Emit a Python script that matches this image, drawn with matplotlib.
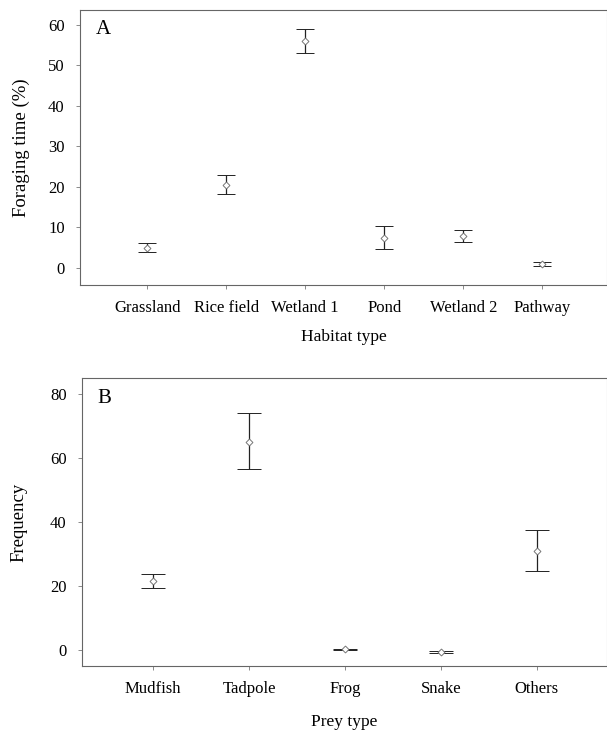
import matplotlib.pyplot as plt
import numpy as np

plt.rcParams['font.family'] = ['Liberation Serif', 'DejaVu Serif']

# Panel A - foraging time by habitat
habitats = ['Grassland', 'Rice field', 'Wetland 1', 'Pond', 'Wetland 2', 'Pathway']
forage_mean = [5.0, 20.5, 56.0, 7.5, 8.0, 1.0]
forage_low = [4.0, 18.2, 53.2, 4.7, 6.5, 0.5]
forage_high = [6.1, 23.0, 59.0, 10.3, 9.5, 1.5]

# Panel B - prey frequency
prey = ['Mudfish', 'Tadpole', 'Frog', 'Snake', 'Others']
prey_mean = [21.5, 65.0, 0.2, -0.6, 31.0]
prey_low = [19.5, 56.5, 0.0, -0.8, 24.8]
prey_high = [23.8, 74.0, 0.4, -0.4, 37.6]

fig = plt.figure(figsize=(6.07, 7.33), dpi=100)
axA = fig.add_axes([80/607, 1-285/733, 527/607, 275/733])
axB = fig.add_axes([82/607, 1-666/733, 525/607, 288/733])


def draw(ax, cats, mean, low, high, cap):
    x = np.arange(1, len(cats) + 1)
    mean = np.array(mean)
    yerr = [mean - np.array(low), np.array(high) - mean]
    ax.errorbar(x, mean, yerr=yerr, fmt='D', ms=3.5, mfc='white', mec='#777777',
                ecolor='#222222', elinewidth=0.9, capsize=cap, capthick=0.9, mew=0.7)
    ax.set_xticks(x)
    ax.set_xticklabels(cats)
    for s in ax.spines.values():
        s.set_color('#666666')
        s.set_linewidth(0.8)
    ax.spines['right'].set_color('#aaaaaa')
    ax.tick_params(direction='out', length=3, width=0.6, color='#777777',
                   labelsize=12, pad=8)


draw(axA, habitats, forage_mean, forage_low, forage_high, 6.8)
axA.set_xlim(0.15, 6.82)
axA.set_ylim(-4.2, 63.7)
axA.set_yticks([0, 10, 20, 30, 40, 50, 60])
axA.set_xlabel('Habitat type', fontsize=12.5, labelpad=9)
axA.set_ylabel('Foraging time (%)', fontsize=13.5, labelpad=13)
axA.text(0.03, 0.93, 'A', transform=axA.transAxes, fontsize=15, va='center')

draw(axB, prey, prey_mean, prey_low, prey_high, 8.6)
axB.set_xlim(0.26, 5.73)
axB.set_ylim(-5, 85)
axB.set_yticks([0, 20, 40, 60, 80])
axB.set_xlabel('Prey type', fontsize=12.5, labelpad=12)
axB.set_ylabel('Frequency', fontsize=13.5, labelpad=16)
axB.text(0.03, 0.93, 'B', transform=axB.transAxes, fontsize=15, va='center')

fig.savefig('out.png', dpi=100)
